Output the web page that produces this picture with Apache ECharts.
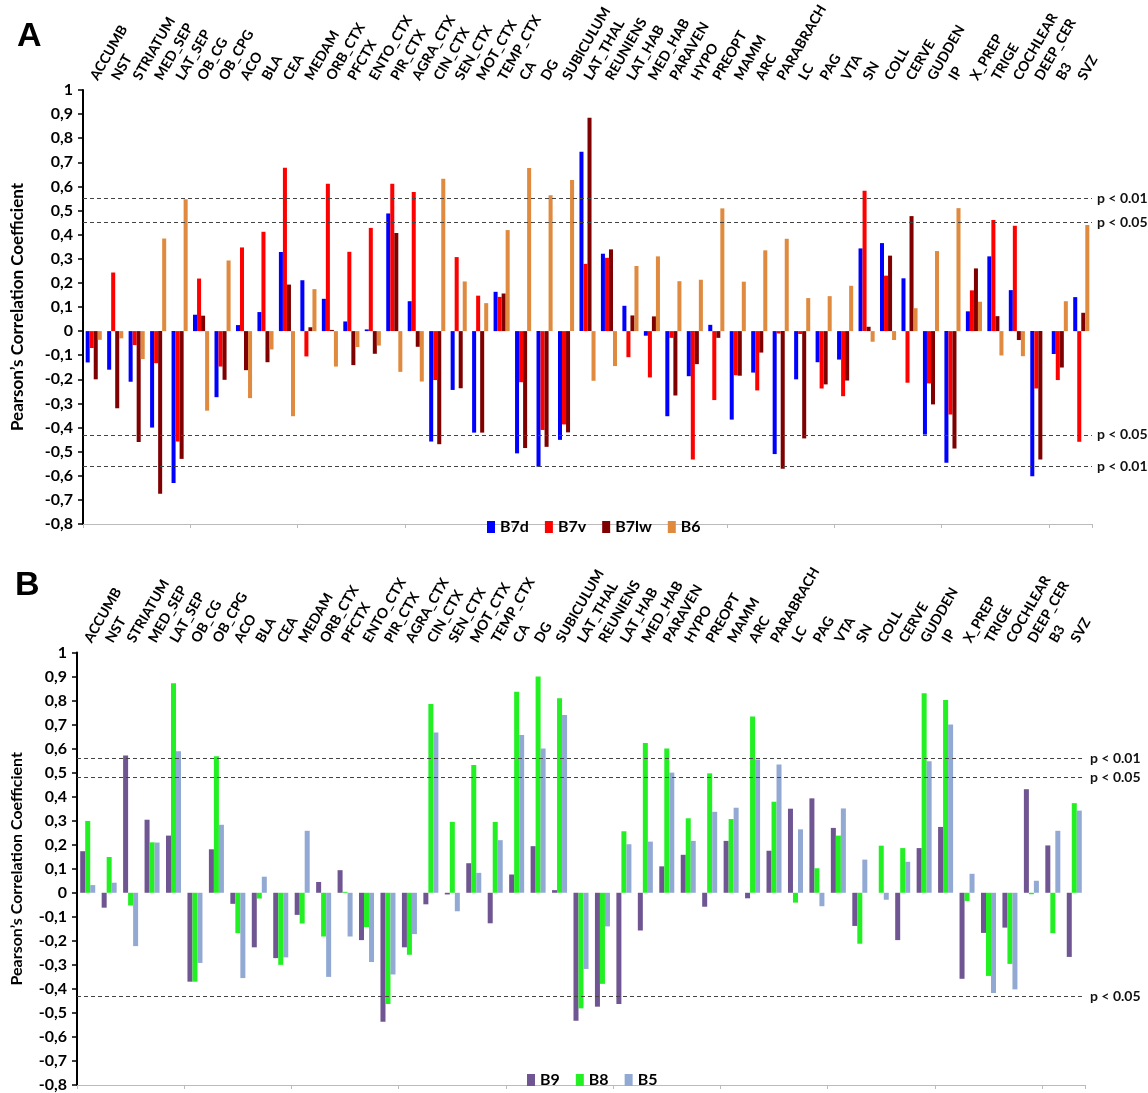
<!DOCTYPE html>
<html>
<head>
<meta charset="utf-8">
<script src="https://cdn.jsdelivr.net/npm/echarts@6/dist/echarts.min.js"></script>
<style>
html,body{margin:0;padding:0;background:#fff;}
#c{width:1148px;height:1093px;}
</style>
</head>
<body>
<div id="c"></div>
<script>
var categories = ['ACCUMB','NST','STRIATUM','MED_SEP','LAT_SEP','OB_CG','OB_CPG','ACO','BLA','CEA','MEDAM','ORB_CTX','PFCTX','ENTO_CTX','PIR_CTX','AGRA_CTX','CIN_CTX','SEN_CTX','MOT_CTX','TEMP_CTX','CA','DG','SUBICULUM','LAT_THAL','REUNIENS','LAT_HAB','MED_HAB','PARAVEN','HYPO','PREOPT','MAMM','ARC','PARABRACH','LC','PAG','VTA','SN','COLL','CERVE','GUDDEN','IP','X_PREP','TRIGE','COCHLEAR','DEEP_CER','B3','SVZ'];

// Panel A
var B7d = [-0.13,-0.16,-0.21,-0.40,-0.63,0.068,-0.274,0.025,0.079,0.328,
  0.211,0.134,0.04,0.007,0.488,0.124,-0.458,-0.244,-0.421,0.163,
  -0.507,-0.563,-0.451,0.744,0.321,0.105,-0.019,-0.353,-0.187,0.026,
  -0.367,-0.172,-0.51,-0.2,-0.129,-0.118,0.343,0.365,0.219,-0.429,
  -0.546,0.082,0.31,0.17,-0.602,-0.095,0.141];
var B7v = [-0.07,0.243,-0.058,-0.133,-0.458,0.218,-0.147,0.347,0.412,0.678,
  -0.105,0.611,0.329,0.428,0.611,0.577,-0.203,0.307,0.147,0.142,
  -0.212,-0.41,-0.387,0.279,0.304,-0.108,-0.192,-0.028,-0.533,-0.286,
  -0.183,-0.246,-0.01,-0.012,-0.238,-0.27,0.582,0.23,-0.214,-0.217,
  -0.346,0.169,0.461,0.437,-0.238,-0.203,-0.459];
var B7lw = [-0.20,-0.32,-0.46,-0.675,-0.53,0.064,-0.202,-0.162,-0.129,0.193,
  0.016,0.005,-0.141,-0.094,0.407,-0.065,-0.469,-0.237,-0.421,0.156,
  -0.485,-0.48,-0.42,0.885,0.339,0.065,0.061,-0.267,-0.137,-0.028,
  -0.185,-0.089,-0.571,-0.445,-0.221,-0.205,0.018,0.313,0.477,-0.304,
  -0.487,0.26,0.062,-0.037,-0.533,-0.151,0.076];
var B6 = [-0.036,-0.03,-0.116,0.384,0.547,-0.33,0.293,-0.278,-0.076,-0.353,
  0.174,-0.147,-0.066,-0.06,-0.169,-0.209,0.632,0.206,0.116,0.419,
  0.676,0.563,0.627,-0.206,-0.145,0.27,0.31,0.207,0.213,0.509,
  0.205,0.335,0.383,0.137,0.145,0.188,-0.044,-0.037,0.095,0.332,
  0.51,0.122,-0.101,-0.104,0,0.124,0.44];

// Panel B
var B9 = [0.173,-0.062,0.571,0.304,0.238,-0.37,0.181,-0.046,-0.227,-0.272,
  -0.092,0.045,0.094,-0.197,-0.537,-0.227,-0.048,-0.007,0.123,-0.127,
  0.076,0.194,0.011,-0.533,-0.474,-0.463,-0.157,0.11,0.158,-0.058,
  0.216,-0.023,0.175,0.35,0.393,0.27,-0.138,0,-0.197,0.186,
  0.274,-0.358,-0.167,-0.145,0.431,0.197,-0.267];
var B8 = [0.299,0.149,-0.053,0.21,0.872,-0.37,0.568,-0.168,-0.024,-0.30,
  -0.128,-0.182,0.004,-0.143,-0.463,-0.258,0.786,0.295,0.532,0.295,
  0.837,0.90,0.81,-0.481,-0.379,0.256,0.623,0.60,0.31,0.497,
  0.307,0.734,0.379,-0.041,0.102,0.238,-0.212,0.196,0.186,0.83,
  0.802,-0.034,-0.346,-0.296,-0.006,-0.168,0.373];
var B5 = [0.032,0.042,-0.222,0.209,0.589,-0.292,0.283,-0.355,0.067,-0.269,
  0.258,-0.35,-0.182,-0.288,-0.34,-0.172,0.667,-0.077,0.083,0.219,
  0.657,0.60,0.74,-0.317,-0.14,0.202,0.213,0.50,0.216,0.337,
  0.354,0.555,0.534,0.264,-0.056,0.351,0.138,-0.029,0.129,0.547,
  0.70,0.079,-0.417,-0.402,0.05,0.258,0.342];

// significance thresholds
var thresholdsA = [0.554, 0.45, -0.43, -0.558];
var thresholdLabelsA = ['p < 0.01','p < 0.05','p < 0.05','p < 0.01'];
var thresholdsB = [0.555, 0.481, -0.43];
var thresholdLabelsB = ['p < 0.01','p < 0.05','p < 0.05'];

var yTickMin = -0.8, yTickMax = 1, yTickStep = 0.1;

var FONT = 'Lato, "Open Sans", sans-serif';

function yFmt(v){ return String(Math.round(v*10)/10).replace('.', ','); }

function markLines(vals, labels){
  return {
    silent: true, symbol: 'none', animation: false,
    lineStyle: {type: [4,3], color: '#444', width: 1.2},
    label: {position: 'end', distance: 5, color: '#111', fontWeight: 'bold', fontSize: 14, fontFamily: FONT},
    data: vals.map(function(v,i){ return {yAxis: v, label: {formatter: labels[i]}}; })
  };
}

function topAxis(gi){
  return {gridIndex: gi, type: 'category', data: categories, position: 'top',
    axisLine: {show: false}, axisTick: {show: false},
    axisLabel: {interval: 0, rotate: 60, margin: 11, fontSize: 14, fontWeight: 'bold', color: '#000', fontFamily: FONT}};
}
function zeroAxis(gi){
  return {gridIndex: gi, type: 'category', data: categories, position: 'bottom',
    axisLine: {show: true, onZero: true, lineStyle: {color: '#bbb', width: 1}},
    axisTick: {show: true, length: 4, lineStyle: {color: '#bbb'}},
    axisLabel: {show: false}};
}
function yAxis(gi, gap, nameSize){
  return {gridIndex: gi, type: 'value', min: yTickMin, max: yTickMax, interval: yTickStep,
    splitLine: {show: false},
    axisLine: {show: true, lineStyle: {color: '#000', width: 2}},
    axisTick: {show: true, length: 5, lineStyle: {color: '#000', width: 1.5}},
    axisLabel: {formatter: yFmt, fontSize: 16, fontWeight: 'bold', color: '#000', margin: 10, fontFamily: FONT},
    name: 'Pearson\u2019s Correlation Coefficient', nameLocation: 'middle', nameGap: gap,
    nameTextStyle: {fontSize: nameSize, fontWeight: 'bold', color: '#000', fontFamily: FONT}};
}

function bar(name, data, color, xi, yi, gapPct, ml){
  var s = {name: name, type: 'bar', data: data, xAxisIndex: xi, yAxisIndex: yi,
    barGap: '0%', barCategoryGap: gapPct, itemStyle: {color: color}};
  if (ml) s.markLine = ml;
  return s;
}

var chart = echarts.init(document.getElementById('c'), null, {renderer: 'canvas'});
chart.setOption({
  animation: false,
  backgroundColor: '#fff',
  grid: [
    {left: 83, top: 90, width: 1009, height: 434},
    {left: 77, top: 652.5, width: 1008, height: 435.5}
  ],
  xAxis: [topAxis(0), zeroAxis(0), topAxis(1), zeroAxis(1)],
  yAxis: [yAxis(0, 57, 17), yAxis(1, 52, 16)],
  legend: [
    {data: ['B7d','B7v','B7lw','B6'], left: 482, top: 514, icon: 'rect', itemWidth: 8, itemHeight: 12, itemGap: 16,
      textStyle: {fontSize: 16, fontWeight: 'bold', color: '#000', fontFamily: FONT}},
    {data: ['B9','B8','B5'], left: 522, top: 1067, icon: 'rect', itemWidth: 8, itemHeight: 12, itemGap: 16,
      textStyle: {fontSize: 16, fontWeight: 'bold', color: '#000', fontFamily: FONT}}
  ],
  graphic: [
    {type: 'text', left: 17, top: 20, style: {text: 'A', font: 'bold 34px "Liberation Sans", Arial, sans-serif', fill: '#000'}},
    {type: 'text', left: 15, top: 569, style: {text: 'B', font: 'bold 34px "Liberation Sans", Arial, sans-serif', fill: '#000'}}
  ],
  series: [
    bar('B7d', B7d, '#0000FF', 0, 0, '25%', markLines(thresholdsA, thresholdLabelsA)),
    bar('B7v', B7v, '#FF0000', 0, 0, '25%'),
    bar('B7lw', B7lw, '#7F0000', 0, 0, '25%'),
    bar('B6', B6, '#DF8A3E', 0, 0, '25%'),
    bar('B9', B9, '#6F5592', 2, 1, '30%', markLines(thresholdsB, thresholdLabelsB)),
    bar('B8', B8, '#22F022', 2, 1, '30%'),
    bar('B5', B5, '#92A9D4', 2, 1, '30%')
  ]
});
</script>
</body>
</html>
